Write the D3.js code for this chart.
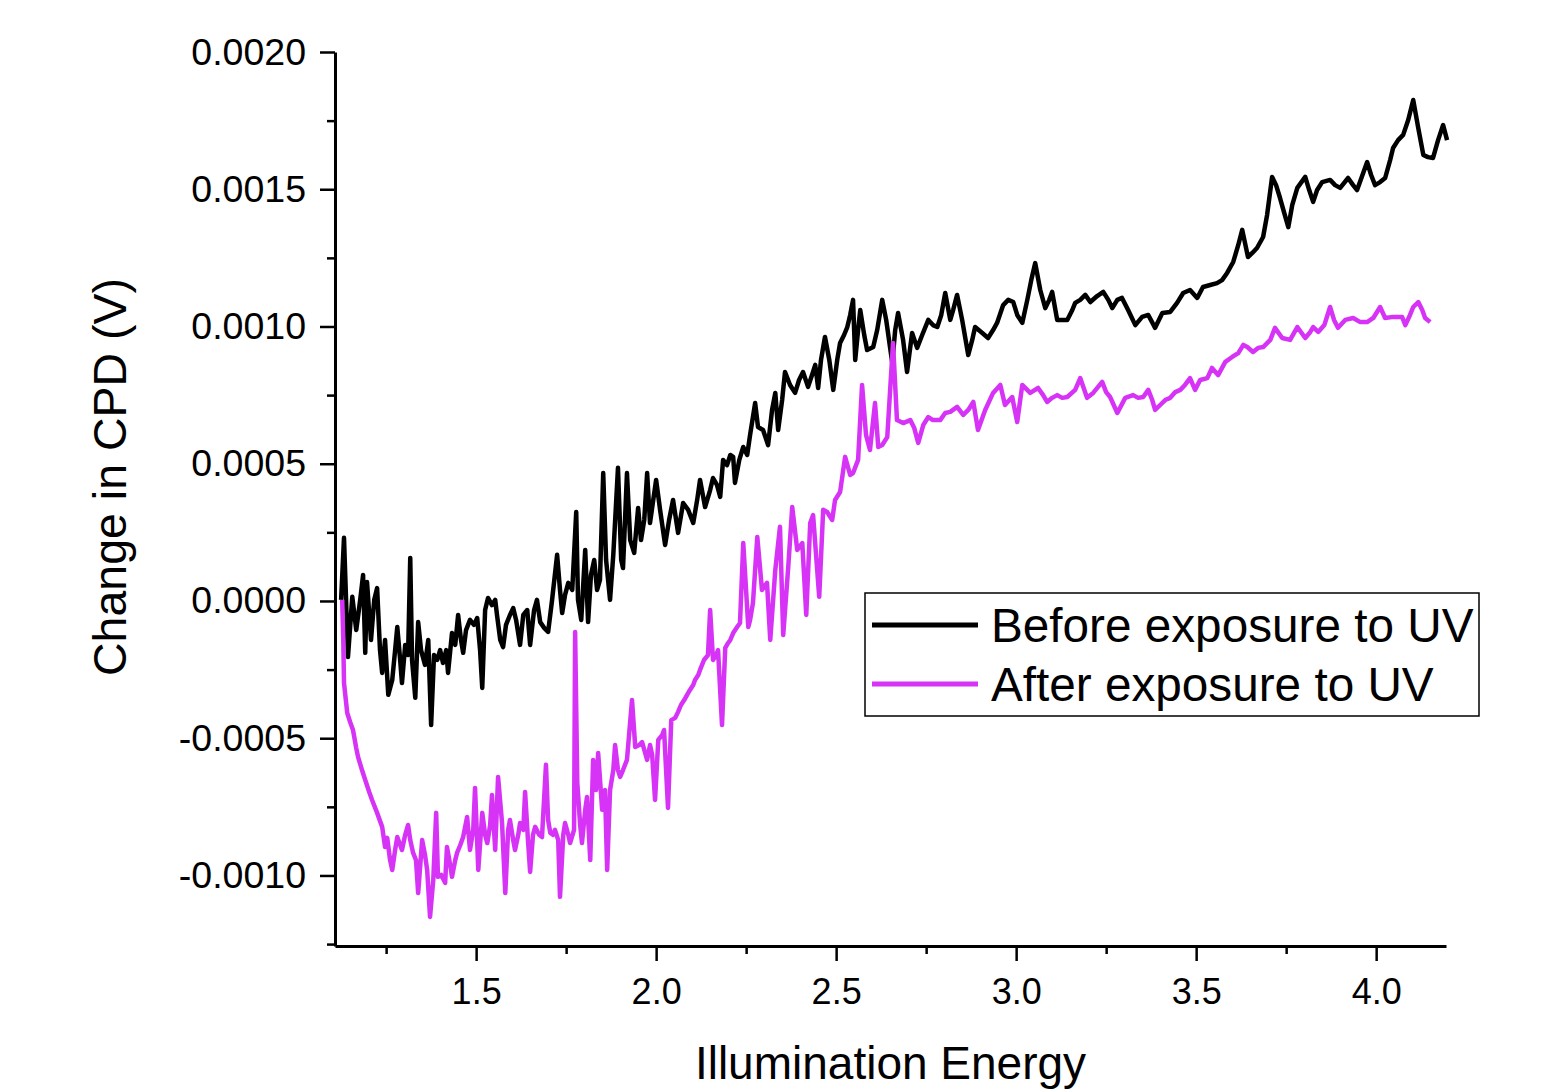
<html>
<head>
<script src="https://d3js.org/d3.v7.min.js"></script>
<style>
  body { margin: 0; background: #fff; }
  text { font-family: "Liberation Sans", Arial, sans-serif; fill: #000; }
  .axis path, .axis line { stroke: #000; }
</style>
</head>
<body>
<script>
// illumination energy (x) and change in CPD in volts (y)
var beforeX = [
  1.125,1.133,1.144,1.156,1.167,1.178,1.186,1.192,1.197,1.208,
  1.217,1.225,1.233,1.239,1.247,1.256,1.267,1.275,1.281,1.289,
  1.294,1.303,1.311,1.317,1.322,1.331,1.339,1.347,1.358,1.367,
  1.375,1.383,1.392,1.400,1.408,1.417,1.422,1.433,1.442,1.450,
  1.458,1.464,1.472,1.483,1.494,1.503,1.511,1.517,1.525,1.533,
  1.544,1.553,1.558,1.567,1.575,1.583,1.594,1.603,1.611,1.622,
  1.631,1.642,1.650,1.661,1.669,1.678,1.689,1.700,1.711,1.725,
  1.733,1.739,1.747,1.756,1.767,1.778,1.783,1.792,1.803,1.811,
  1.819,1.828,1.836,1.844,1.853,1.861,1.872,1.881,1.894,1.903,
  1.908,1.919,1.928,1.939,1.950,1.958,1.967,1.975,1.983,1.992,
  2.000,2.011,2.025,2.036,2.047,2.061,2.075,2.089,2.103,2.114,
  2.122,2.136,2.150,2.158,2.169,2.178,2.186,2.197,2.206,2.214,
  2.219,2.231,2.242,2.253,2.261,2.275,2.283,2.297,2.311,2.322,
  2.331,2.339,2.350,2.358,2.372,2.386,2.397,2.408,2.422,2.433,
  2.442,2.450,2.458,2.469,2.481,2.492,2.503,2.511,2.522,2.531,
  2.539,2.547,2.553,2.561,2.567,2.578,2.586,2.603,2.614,2.628,
  2.639,2.650,2.656,2.664,2.672,2.686,2.697,2.711,2.725,2.739,
  2.756,2.769,2.781,2.792,2.803,2.817,2.825,2.836,2.850,2.867,
  2.878,2.886,2.906,2.922,2.936,2.947,2.964,2.978,2.992,3.003,
  3.017,3.031,3.042,3.053,3.067,3.081,3.092,3.100,3.114,3.128,
  3.142,3.156,3.164,3.178,3.192,3.206,3.225,3.242,3.256,3.267,
  3.281,3.294,3.311,3.331,3.350,3.367,3.386,3.406,3.428,3.447,
  3.464,3.483,3.503,3.519,3.539,3.558,3.572,3.586,3.603,3.617,
  3.628,3.644,3.656,3.669,3.686,3.697,3.711,3.722,3.733,3.744,
  3.756,3.767,3.781,3.803,3.814,3.825,3.836,3.850,3.872,3.886,
  3.900,3.922,3.936,3.947,3.961,3.975,3.986,3.997,4.011,4.025,
  4.039,4.047,4.061,4.075,4.089,4.103,4.117,4.131,4.144,4.158,
  4.172,4.186,4.197
];
var beforeY = [
  0.000004,0.000230,-0.000204,0.000015,-0.000106,0.000004,0.000095,-0.000189,0.000069,-0.000142,
  0.000004,0.000047,-0.000179,-0.000262,-0.000142,-0.000342,-0.000288,-0.000179,-0.000095,-0.000215,
  -0.000299,-0.000160,-0.000197,0.000157,-0.000215,-0.000353,-0.000077,-0.000179,-0.000233,-0.000142,
  -0.000452,-0.000197,-0.000215,-0.000179,-0.000226,-0.000179,-0.000262,-0.000117,-0.000160,-0.000051,
  -0.000142,-0.000189,-0.000106,-0.000069,-0.000087,-0.000062,-0.000179,-0.000317,-0.000033,0.000011,
  -0.000015,0.000004,-0.000051,-0.000142,-0.000168,-0.000087,-0.000051,-0.000026,-0.000069,-0.000160,
  -0.000051,-0.000033,-0.000160,-0.000033,0.000004,-0.000077,-0.000098,-0.000113,0.000004,0.000168,
  0.000040,-0.000044,0.000022,0.000066,0.000040,0.000324,0.000004,-0.000069,0.000186,-0.000077,
  0.000095,0.000149,0.000040,0.000077,0.000466,0.000149,0.000004,0.000168,0.000485,0.000149,
  0.000120,0.000466,0.000222,0.000175,0.000339,0.000222,0.000295,0.000466,0.000284,0.000368,
  0.000441,0.000332,0.000204,0.000295,0.000368,0.000248,0.000357,0.000332,0.000284,0.000368,
  0.000441,0.000342,0.000404,0.000448,0.000423,0.000379,0.000514,0.000495,0.000532,0.000525,
  0.000430,0.000514,0.000561,0.000532,0.000605,0.000721,0.000634,0.000623,0.000568,0.000696,
  0.000758,0.000623,0.000732,0.000834,0.000787,0.000758,0.000805,0.000834,0.000780,0.000823,
  0.000860,0.000776,0.000878,0.000962,0.000878,0.000769,0.000878,0.000940,0.000969,0.000998,
  0.001042,0.001097,0.000878,0.000987,0.001060,0.000969,0.000914,0.000925,0.000987,0.001097,
  0.001024,0.000922,0.000867,0.000987,0.001049,0.000951,0.000834,0.000976,0.000922,0.000969,
  0.001024,0.001005,0.000998,0.001042,0.001122,0.001024,0.001060,0.001115,0.001024,0.000896,
  0.000951,0.000998,0.000976,0.000958,0.000987,0.001013,0.001078,0.001097,0.001089,0.001042,
  0.001013,0.001097,0.001169,0.001231,0.001133,0.001067,0.001097,0.001126,0.001024,0.001024,
  0.001024,0.001060,0.001086,0.001097,0.001115,0.001089,0.001111,0.001126,0.001097,0.001067,
  0.001097,0.001104,0.001060,0.001005,0.001035,0.001042,0.000995,0.001049,0.001053,0.001086,
  0.001122,0.001133,0.001104,0.001144,0.001151,0.001158,0.001169,0.001195,0.001235,0.001297,
  0.001352,0.001253,0.001268,0.001286,0.001326,0.001406,0.001545,0.001515,0.001468,0.001417,
  0.001362,0.001443,0.001505,0.001545,0.001497,0.001454,0.001497,0.001526,0.001534,0.001515,
  0.001505,0.001541,0.001515,0.001497,0.001548,0.001599,0.001552,0.001515,0.001526,0.001541,
  0.001607,0.001650,0.001679,0.001698,0.001752,0.001825,0.001723,0.001625,0.001617,0.001614,
  0.001679,0.001734,0.001679
];
var afterX = [
  1.128,1.131,1.133,1.142,1.150,1.158,1.167,1.172,1.183,1.192,
  1.203,1.211,1.225,1.239,1.247,1.253,1.261,1.267,1.275,1.281,
  1.289,1.294,1.303,1.311,1.317,1.325,1.333,1.339,1.350,1.358,
  1.364,1.372,1.381,1.389,1.394,1.403,1.414,1.419,1.428,1.433,
  1.442,1.447,1.456,1.464,1.475,1.483,1.492,1.497,1.506,1.517,
  1.525,1.531,1.539,1.544,1.553,1.561,1.572,1.581,1.589,1.594,
  1.603,1.608,1.617,1.622,1.631,1.636,1.644,1.650,1.658,1.664,
  1.675,1.683,1.694,1.700,1.706,1.714,1.719,1.728,1.733,1.742,
  1.747,1.756,1.761,1.772,1.775,1.781,1.789,1.794,1.803,1.808,
  1.817,1.825,1.833,1.839,1.850,1.858,1.864,1.872,1.881,1.886,
  1.894,1.900,1.908,1.919,1.933,1.942,1.953,1.961,1.975,1.983,
  1.989,1.997,2.006,2.017,2.022,2.033,2.042,2.053,2.061,2.069,
  2.078,2.086,2.094,2.103,2.108,2.117,2.122,2.133,2.144,2.150,
  2.158,2.167,2.172,2.183,2.192,2.200,2.206,2.214,2.225,2.233,
  2.242,2.256,2.261,2.269,2.281,2.294,2.308,2.317,2.331,2.344,
  2.353,2.367,2.378,2.392,2.406,2.417,2.428,2.436,2.453,2.464,
  2.475,2.489,2.497,2.511,2.525,2.539,2.547,2.561,2.572,2.583,
  2.594,2.608,2.617,2.628,2.642,2.658,2.669,2.686,2.706,2.717,
  2.728,2.742,2.756,2.769,2.789,2.803,2.817,2.836,2.853,2.867,
  2.881,2.894,2.914,2.936,2.956,2.969,2.989,3.003,3.017,3.039,
  3.061,3.075,3.086,3.100,3.114,3.128,3.142,3.164,3.178,3.197,
  3.214,3.239,3.250,3.261,3.281,3.303,3.325,3.339,3.353,3.367,
  3.378,3.386,3.400,3.414,3.428,3.442,3.456,3.469,3.483,3.497,
  3.511,3.531,3.544,3.561,3.581,3.600,3.617,3.631,3.642,3.658,
  3.672,3.686,3.706,3.719,3.739,3.761,3.781,3.803,3.817,3.825,
  3.839,3.856,3.872,3.883,3.894,3.914,3.936,3.956,3.975,3.992,
  4.011,4.025,4.047,4.072,4.081,4.094,4.103,4.117,4.128,4.136,
  4.150
];
var afterY = [
  0.000004,-0.000142,-0.000299,-0.000408,-0.000441,-0.000470,-0.000536,-0.000568,-0.000616,-0.000652,
  -0.000696,-0.000725,-0.000772,-0.000823,-0.000896,-0.000863,-0.000944,-0.000980,-0.000907,-0.000860,
  -0.000889,-0.000907,-0.000852,-0.000816,-0.000871,-0.000918,-0.000944,-0.001064,-0.000871,-0.000925,
  -0.000980,-0.001151,-0.001016,-0.000772,-0.001005,-0.000998,-0.001027,-0.000896,-0.000962,-0.001005,
  -0.000944,-0.000918,-0.000889,-0.000860,-0.000787,-0.000907,-0.000834,-0.000681,-0.000980,-0.000772,
  -0.000852,-0.000882,-0.000816,-0.000707,-0.000907,-0.000641,-0.000809,-0.001064,-0.000834,-0.000798,
  -0.000871,-0.000907,-0.000852,-0.000809,-0.000834,-0.000696,-0.000871,-0.000987,-0.000852,-0.000823,
  -0.000852,-0.000860,-0.000597,-0.000798,-0.000845,-0.000852,-0.000834,-0.000871,-0.001078,-0.000852,
  -0.000809,-0.000852,-0.000882,-0.000834,-0.000113,-0.000663,-0.000816,-0.000882,-0.000761,-0.000714,
  -0.000944,-0.000579,-0.000689,-0.000554,-0.000761,-0.000689,-0.000980,-0.000689,-0.000616,-0.000525,
  -0.000616,-0.000641,-0.000616,-0.000579,-0.000361,-0.000532,-0.000525,-0.000514,-0.000579,-0.000525,
  -0.000561,-0.000725,-0.000506,-0.000488,-0.000470,-0.000754,-0.000434,-0.000426,-0.000404,-0.000379,
  -0.000361,-0.000342,-0.000324,-0.000306,-0.000288,-0.000270,-0.000251,-0.000215,-0.000197,-0.000033,
  -0.000215,-0.000197,-0.000179,-0.000452,-0.000171,-0.000153,-0.000142,-0.000117,-0.000095,-0.000080,
  0.000211,-0.000095,-0.000069,-0.000007,0.000233,0.000040,0.000066,-0.000142,0.000113,0.000270,
  -0.000124,0.000124,0.000342,0.000186,0.000211,-0.000051,0.000284,0.000313,0.000015,0.000332,
  0.000324,0.000295,0.000368,0.000397,0.000525,0.000459,0.000466,0.000514,0.000787,0.000605,
  0.000550,0.000721,0.000561,0.000568,0.000597,0.000940,0.000659,0.000648,0.000659,0.000630,
  0.000576,0.000641,0.000670,0.000659,0.000659,0.000685,0.000689,0.000707,0.000678,0.000696,
  0.000725,0.000623,0.000696,0.000758,0.000787,0.000714,0.000743,0.000652,0.000787,0.000758,
  0.000776,0.000750,0.000725,0.000740,0.000750,0.000740,0.000743,0.000769,0.000812,0.000740,
  0.000758,0.000798,0.000761,0.000743,0.000685,0.000740,0.000750,0.000740,0.000743,0.000769,
  0.000732,0.000696,0.000714,0.000732,0.000740,0.000761,0.000769,0.000787,0.000812,0.000769,
  0.000805,0.000812,0.000849,0.000823,0.000871,0.000889,0.000903,0.000933,0.000925,0.000907,
  0.000922,0.000925,0.000951,0.000995,0.000958,0.000951,0.000998,0.000958,0.000980,0.000998,
  0.000980,0.001005,0.001071,0.001024,0.000995,0.001024,0.001031,0.001016,0.001016,0.001031,
  0.001071,0.001031,0.001035,0.001035,0.001005,0.001042,0.001071,0.001089,0.001060,0.001031,
  0.001016
];
var seriesNames = ["Before exposure to UV", "After exposure to UV"];
var seriesColors = ["#000000", "#d633f7"];
var xMajor = [1.5, 2.0, 2.5, 3.0, 3.5, 4.0];
var xMinor = [1.25, 1.75, 2.25, 2.75, 3.25, 3.75];
var yMajor = [-0.0010, -0.0005, 0.0000, 0.0005, 0.0010, 0.0015, 0.0020];
var yMinor = [-0.00125, -0.00075, -0.00025, 0.00025, 0.00075, 0.00125, 0.00175];
var xDomain = [1.108, 4.194];
var yDomain = [-0.001257, 0.0020];

var W = 1558, H = 1090;
var plotLeft = 335, plotRight = 1446, plotTop = 52, plotBottom = 946;

var svg = d3.select("body").append("svg")
    .attr("width", W).attr("height", H);

var x = d3.scaleLinear().domain(xDomain).range([plotLeft, plotRight]);
var y = d3.scaleLinear().domain(yDomain).range([plotBottom, plotTop]);

// minor ticks first, then the major axes on top
svg.append("g").attr("class", "axis")
    .attr("transform", "translate(0," + plotBottom + ")")
    .call(d3.axisBottom(x).tickValues(xMinor).tickSize(8).tickFormat(""))
    .call(g => g.select(".domain").remove())
    .selectAll("line").attr("stroke-width", 2.5);
svg.append("g").attr("class", "axis")
    .attr("transform", "translate(" + plotLeft + ",0)")
    .call(d3.axisLeft(y).tickValues(yMinor).tickSize(8).tickFormat(""))
    .call(g => g.select(".domain").remove())
    .selectAll("line").attr("stroke-width", 2.5);

var xAxis = svg.append("g").attr("class", "axis")
    .attr("transform", "translate(0," + plotBottom + ")")
    .call(d3.axisBottom(x).tickValues(xMajor).tickSize(15).tickSizeOuter(0).tickPadding(17)
        .tickFormat(d => d.toFixed(1)));
xAxis.select(".domain").attr("stroke-width", 3);
xAxis.selectAll("line").attr("stroke-width", 2.5);
xAxis.selectAll("text").attr("font-size", 36).attr("font-family", "Liberation Sans, Arial");

var yAxis = svg.append("g").attr("class", "axis")
    .attr("transform", "translate(" + plotLeft + ",0)")
    .call(d3.axisLeft(y).tickValues(yMajor).tickSize(15).tickSizeOuter(0).tickPadding(14)
        .tickFormat(d => d.toFixed(4)));
yAxis.select(".domain").attr("stroke-width", 3);
yAxis.selectAll("line").attr("stroke-width", 2.5);
yAxis.selectAll("text").attr("font-size", 37.5).attr("font-family", "Liberation Sans, Arial");

svg.append("text")
    .attr("x", (plotLeft + plotRight) / 2).attr("y", 1079)
    .attr("text-anchor", "middle").attr("font-size", 46)
    .text("Illumination Energy");

svg.append("text")
    .attr("transform", "translate(126,477) rotate(-90)")
    .attr("text-anchor", "middle").attr("font-size", 46.5)
    .text("Change in CPD (V)");

var line = d3.line().x(d => x(d[0])).y(d => y(d[1]));
var series = [d3.zip(beforeX, beforeY), d3.zip(afterX, afterY)];

svg.selectAll(".series")
    .data(series)
    .enter().append("path")
    .attr("class", "series")
    .attr("d", line)
    .attr("fill", "none")
    .attr("stroke", (d, i) => seriesColors[i])
    .attr("stroke-width", 4.5)
    .attr("stroke-linejoin", "round");

// legend
var legend = svg.append("g").attr("transform", "translate(865,593)");
legend.append("rect")
    .attr("width", 614).attr("height", 123)
    .attr("fill", "#fff").attr("stroke", "#000").attr("stroke-width", 1.5);
var rows = legend.selectAll(".row").data(seriesNames).enter().append("g")
    .attr("transform", (d, i) => "translate(0," + (32 + i * 59) + ")");
rows.append("line")
    .attr("x1", 7).attr("x2", 113)
    .attr("stroke", (d, i) => seriesColors[i]).attr("stroke-width", 5);
rows.append("text")
    .attr("x", 126).attr("y", 17)
    .attr("font-size", 47.7)
    .text(d => d);
</script>
</body>
</html>
